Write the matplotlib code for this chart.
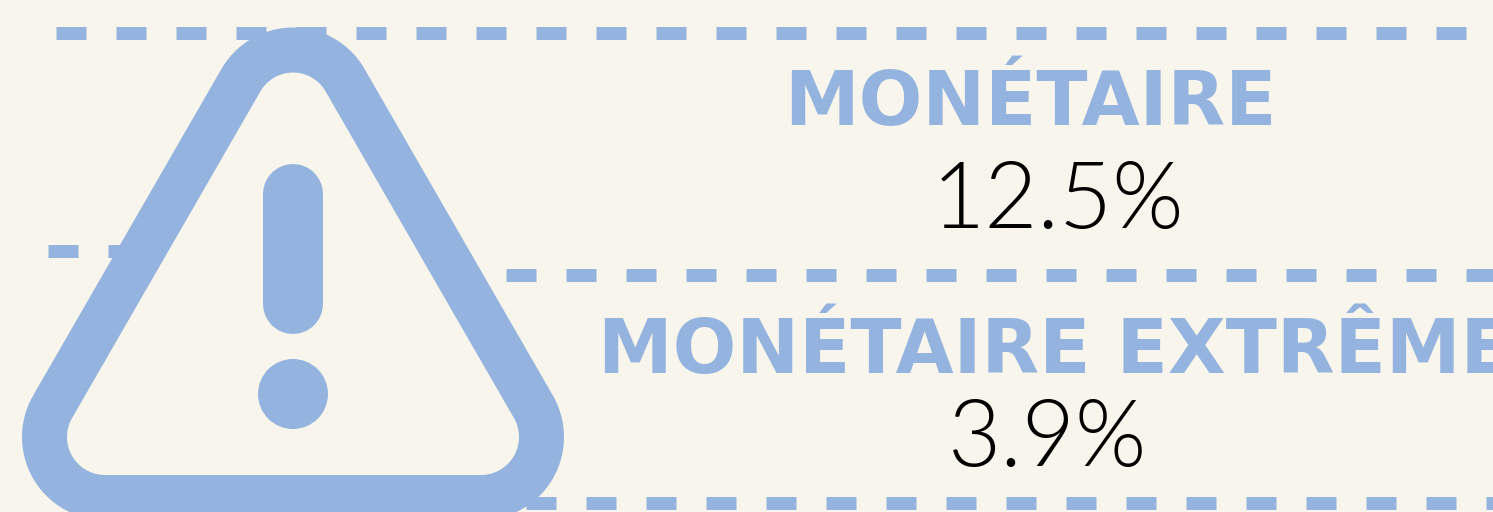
import numpy as np
import matplotlib
matplotlib.use("Agg")
import matplotlib.pyplot as plt
from matplotlib.patches import Polygon, Circle

BG = "#F8F5ED"
BLUE = "#94B4DF"

labels = ["MONÉTAIRE", "MONÉTAIRE EXTRÊME"]
values = ["12.5%", "3.9%"]

# dashed rows: x start, x end, y
dash_rows = [(56, 1493, 33), (48, 125, 251), (506, 1493, 275), (526, 1493, 503)]

W, H = 1493, 512
px = 72 / 100  # one pixel in points

fig = plt.figure(figsize=(W / 100, H / 100), dpi=100, facecolor=BG)
ax = fig.add_axes([0, 0, 1, 1])
ax.set_xlim(0, W)
ax.set_ylim(H, 0)
ax.axis("off")

for x0, x1, y in dash_rows:
    ax.plot([x0, x1], [y, y], color=BLUE, lw=13 * px, dashes=(30 / 13, 30 / 13),
            dash_capstyle="butt", solid_capstyle="butt")


# rounded triangle outline, corners are arcs around these centres
def corner(cx, cy, r, a0, a1):
    t = np.radians(np.linspace(a0, a1, 40))
    return np.column_stack([cx + r * np.cos(t), cy + r * np.sin(t)])


tri = np.vstack([
    corner(293, 110, 60, 210, 330),
    corner(481, 437, 60.5, 330, 450),
    corner(105, 437, 60.5, 90, 210),
])
ax.add_patch(Polygon(tri, closed=True, fill=False, edgecolor=BLUE, lw=45 * px, joinstyle="round"))

# exclamation mark
ax.plot([293, 293], [194, 304], color=BLUE, lw=60 * px, solid_capstyle="round")
ax.add_patch(Circle((293, 394), 35, color=BLUE, lw=0))

ax.text(1030, 125, labels[0], color=BLUE, fontsize=54, family="DejaVu Sans", fontweight="bold",
        ha="center", va="baseline")
ax.text(598, 373, labels[1], color=BLUE, fontsize=54, family="DejaVu Sans", fontweight="bold",
        ha="left", va="baseline", clip_on=True)

ax.text(1058, 228, values[0], color="black", fontsize=66, family="Lato", fontweight=300,
        ha="center", va="baseline")
ax.text(1048, 466, values[1], color="black", fontsize=66, family="Lato", fontweight=300,
        ha="center", va="baseline")

fig.savefig("out.png", dpi=100, facecolor=BG)
